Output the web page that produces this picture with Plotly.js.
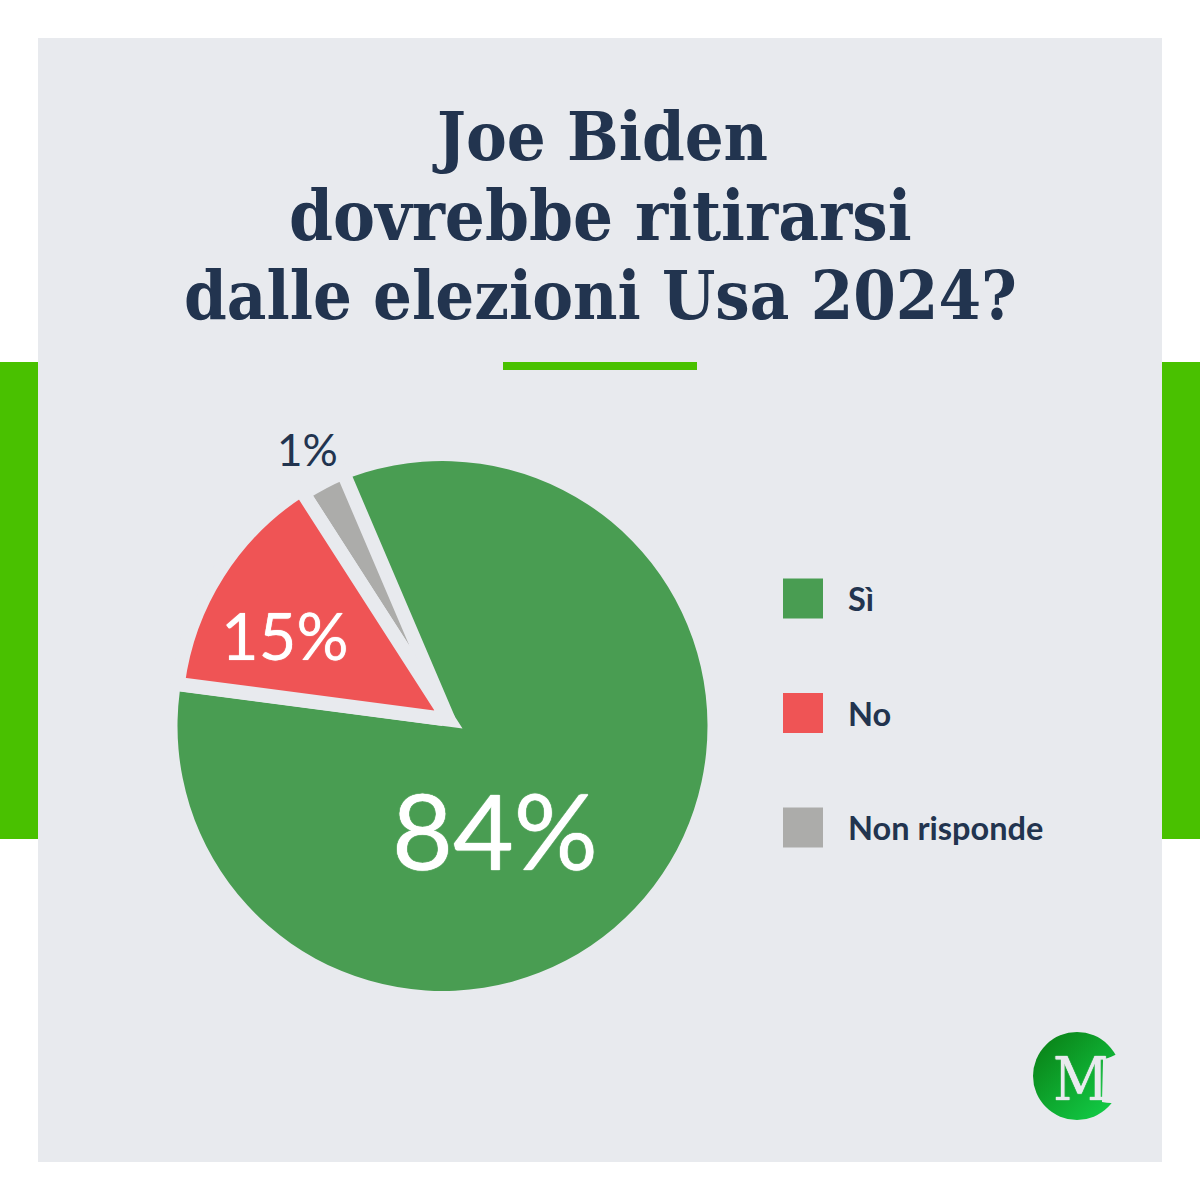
<!DOCTYPE html>
<html><head><meta charset="utf-8">
<script src="https://cdn.plot.ly/plotly-3.0.1.min.js"></script>
<style>html,body{margin:0;padding:0;background:#fff}#c{width:1200px;height:1200px}
.pielayer path.surface{stroke-linejoin:miter !important;stroke-miterlimit:4}</style>
</head><body><div id="c"></div>
<script>
const titleLines = ['Joe Biden','dovrebbe ritirarsi','dalle elezioni Usa 2024?'];
const categories = ['Sì','No','Non risponde'];
const printedLabels = ['84%','15%','1%'];
// The wedges in the reference do not sweep exactly the printed figures; these are the shares.
const drawnShares = [83.5,13.83,2.67];
const sliceColors = ['#499d52','#ef5455','#acacaa'];
const BG='#e8eaee', INK='#22344f', BRIGHT='#49c100';
const px=x=>x/1200, py=y=>1-y/1200;
const dom=(cx,cy,r)=>({x:[px(cx-r),px(cx+r)],y:[py(cy+r),py(cy-r)]});
const rect=(x0,y0,x1,y1,c)=>({type:'rect',xref:'paper',yref:'paper',x0:px(x0),x1:px(x1),y0:py(y1),y1:py(y0),fillcolor:c,line:{width:0},layer:'below'});
const clear='rgba(0,0,0,0)';
const rotation=-23.1;
const GAP=14;
const layer=(cx,cy,r,i,stroke)=>({type:'pie',sort:false,direction:'clockwise',rotation,values:drawnShares,labels:categories,
  domain:dom(cx,cy,r+stroke/2),textinfo:'none',hoverinfo:'skip',showlegend:false,
  marker:{colors:sliceColors.map((c,k)=>k===i?c:clear),line:{color:BG,width:sliceColors.map((c,k)=>k===i?stroke:0)}}});
const traces=[
 layer(442.5,726,265,0,0),
 layer(448.5,719.5,261.5,2,GAP),
 layer(448.5,719.5,266,1,GAP)
];
const shapes=[
 rect(0,362,38,839,BRIGHT),rect(1162,362,1200,839,BRIGHT),
 rect(38,38,1162,1162,BG),rect(503,362,697,370,BRIGHT)
];
const legendY=[598.5,713,827.5];
categories.forEach((c,i)=>shapes.push(rect(783,legendY[i]-20,823,legendY[i]+20,sliceColors[i])));
const ann=(x,y,text,size,color,family,xanchor,bold,shadow)=>({xref:'paper',yref:'paper',x:px(x),y:py(y),text:bold?'<b>'+text+'</b>':text,showarrow:false,xanchor:xanchor||'center',yanchor:'middle',font:{size,color,family,shadow:shadow||'none'}});
const titleY=[136,215,295];
const titleSize=[68,70,68];
const annotations=[
 ann(495,829,printedLabels[0],105,'#fff','Lato','center',false,'0 0 1px #fff, 0 0 1px #fff'),
 ann(285,635,printedLabels[1],65,'#fff','Lato','center',false,'0 0 1px #fff'),
 ann(307,449,printedLabels[2],44,INK,'Lato'),
 ann(1080.5,1079,'M',60,BG,'DejaVu Serif Condensed','center',false,'0 0 1px '+BG+', 0 0 1px '+BG)
];
titleLines.forEach((t,i)=>annotations.push(ann(600,titleY[i],t,titleSize[i],INK,'DejaVu Serif Condensed','center',true)));
categories.forEach((c,i)=>annotations.push(ann(846,legendY[i],c,32.5,INK,'Lato','left',true)));
const logo=encodeURIComponent(`<svg xmlns="http://www.w3.org/2000/svg" viewBox="0 0 100 100"><defs><linearGradient id="g" x1="0.1" y1="0.1" x2="0.9" y2="0.9"><stop offset="0" stop-color="#0a8418"/><stop offset="1" stop-color="#12cc46"/></linearGradient></defs><circle cx="44" cy="44" r="44" fill="url(#g)"/><path d="M82 23 Q74 27 70 27 L69 70 Q74 71 78 71 L100 71 L100 23Z" fill="${BG}"/></svg>`);
const images=[{source:'data:image/svg+xml,'+logo,xref:'paper',yref:'paper',x:px(1033),y:py(1032),sizex:100/1200,sizey:100/1200,xanchor:'left',yanchor:'top',layer:'above',sizing:'stretch'}];
Plotly.newPlot('c',traces,{
 width:1200,height:1200,margin:{l:0,r:0,t:0,b:0},paper_bgcolor:'#fff',showlegend:false,
 shapes,annotations,images
},{displayModeBar:false,responsive:false});
</script></body></html>
